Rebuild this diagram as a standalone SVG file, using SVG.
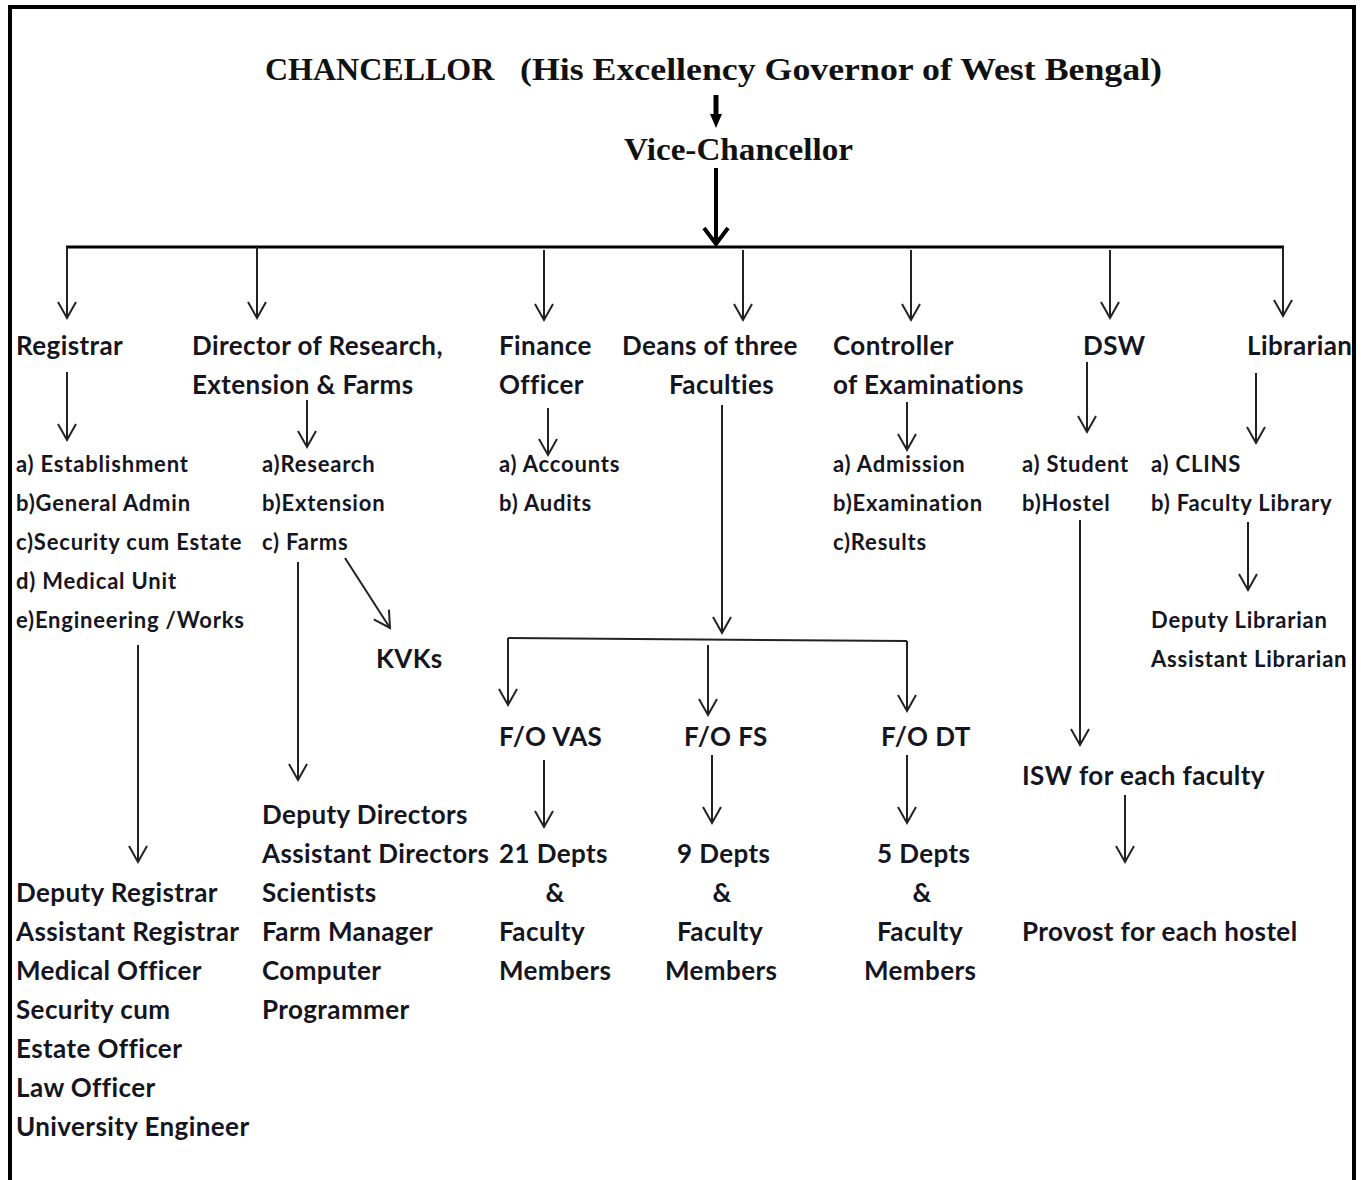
<svg xmlns="http://www.w3.org/2000/svg" width="1361" height="1180" viewBox="0 0 1361 1180">
<style>
.t{font-family:Lato,"Open Sans","Liberation Sans",sans-serif;font-weight:bold;fill:#15151f;font-size:26px;letter-spacing:0.4px}
.s{font-size:22px;letter-spacing:0.8px}
.c{text-anchor:middle}
.ser{font-family:"Liberation Serif","DejaVu Serif",serif;font-weight:bold;fill:#111;font-size:32px}
.ln{stroke:#222;stroke-width:2;fill:none}
</style>
<defs>
<marker id="ah" viewBox="-20 -12 24 24" markerWidth="24" markerHeight="24" refX="0" refY="0" orient="auto" markerUnits="userSpaceOnUse" overflow="visible">
<path d="M-16,-9 L0,0 L-16,9" fill="none" stroke="#222" stroke-width="2"/>
</marker>
<marker id="ahb" viewBox="-20 -16 24 32" markerWidth="24" markerHeight="32" refX="0" refY="0" orient="auto" markerUnits="userSpaceOnUse" overflow="visible">
<path d="M-16,-12 L0,0 L-16,12" fill="none" stroke="#000" stroke-width="4"/>
</marker>
</defs>
<rect x="0" y="0" width="1361" height="1180" fill="#fff"/>
<rect x="10" y="7" width="1344" height="1200" fill="none" stroke="#000" stroke-width="4"/>

<g id="chancellor"><text class="ser" x="265" y="80">CHANCELLOR</text><text class="ser" x="520" y="80" textLength="642" lengthAdjust="spacingAndGlyphs">(His Excellency Governor of West Bengal)</text></g>
<g id="vc"><text class="ser" x="624" y="160" textLength="229" lengthAdjust="spacingAndGlyphs">Vice-Chancellor</text></g>

<g id="registrar"><text class="t" x="16" y="355">Registrar</text></g>
<g id="director"><text class="t" x="192" y="355">Director of Research,</text><text class="t" x="192" y="394">Extension &amp; Farms</text></g>
<g id="finance"><text class="t" x="499" y="355">Finance</text><text class="t" x="499" y="394">Officer</text></g>
<g id="deans"><text class="t" x="622" y="355">Deans of three</text><text class="t" x="669" y="394">Faculties</text></g>
<g id="controller"><text class="t" x="833" y="355">Controller</text><text class="t" x="833" y="394">of Examinations</text></g>
<g id="dsw"><text class="t" x="1083" y="355">DSW</text></g>
<g id="librarian"><text class="t" x="1247" y="355">Librarian</text></g>

<g id="reg-units" class="t s">
<text x="16" y="472">a) Establishment</text>
<text x="16" y="511">b)General Admin</text>
<text x="16" y="550">c)Security cum Estate</text>
<text x="16" y="589">d) Medical Unit</text>
<text x="16" y="628">e)Engineering /Works</text>
</g>
<g id="dir-units" class="t s">
<text x="262" y="472">a)Research</text>
<text x="262" y="511">b)Extension</text>
<text x="262" y="550">c) Farms</text>
</g>
<g id="fin-units" class="t s">
<text x="499" y="472">a) Accounts</text>
<text x="499" y="511">b) Audits</text>
</g>
<g id="coe-units" class="t s">
<text x="833" y="472">a) Admission</text>
<text x="833" y="511">b)Examination</text>
<text x="833" y="550">c)Results</text>
</g>
<g id="dsw-units" class="t s">
<text x="1022" y="472">a) Student</text>
<text x="1022" y="511">b)Hostel</text>
</g>
<g id="lib-units" class="t s">
<text x="1151" y="472">a) CLINS</text>
<text x="1151" y="511">b) Faculty Library</text>
</g>
<g id="lib-staff" class="t s">
<text x="1151" y="628">Deputy Librarian</text>
<text x="1151" y="667">Assistant Librarian</text>
</g>
<g id="kvks"><text class="t" x="376" y="668">KVKs</text></g>

<g id="fovas"><text class="t" x="499" y="746">F/O VAS</text></g>
<g id="fofs"><text class="t" x="684" y="746">F/O FS</text></g>
<g id="fodt"><text class="t" x="881" y="746">F/O DT</text></g>

<g id="isw"><text class="t" x="1022" y="785">ISW for each faculty</text></g>
<g id="provost"><text class="t" x="1022" y="941">Provost for each hostel</text></g>

<g id="dir-staff" class="t">
<text x="262" y="824">Deputy Directors</text>
<text x="262" y="863">Assistant Directors</text>
<text x="262" y="902">Scientists</text>
<text x="262" y="941">Farm Manager</text>
<text x="262" y="980">Computer</text>
<text x="262" y="1019">Programmer</text>
</g>

<g id="vas-depts" class="t">
<text x="499" y="863">21 Depts</text>
<text x="555" y="902" class="c">&amp;</text>
<text x="499" y="941">Faculty</text>
<text x="499" y="980">Members</text>
</g>
<g id="fs-depts" class="t">
<text x="677" y="863">9 Depts</text>
<text x="722" y="902" class="c">&amp;</text>
<text x="677" y="941">Faculty</text>
<text x="665" y="980">Members</text>
</g>
<g id="dt-depts" class="t">
<text x="877" y="863">5 Depts</text>
<text x="922" y="902" class="c">&amp;</text>
<text x="877" y="941">Faculty</text>
<text x="864" y="980">Members</text>
</g>

<g id="reg-staff" class="t">
<text x="16" y="902">Deputy Registrar</text>
<text x="16" y="941">Assistant Registrar</text>
<text x="16" y="980">Medical Officer</text>
<text x="16" y="1019">Security cum</text>
<text x="16" y="1058">Estate Officer</text>
<text x="16" y="1097">Law Officer</text>
<text x="16" y="1136">University Engineer</text>
</g>

<g id="connectors">
<path d="M716,95 V116" stroke="#000" stroke-width="5" fill="none"/>
<path d="M710,114 L722,114 L716,128 Z" fill="#000"/>
<path d="M716,168 V244" stroke="#000" stroke-width="4" fill="none" marker-end="url(#ahb)"/>
<path d="M66,247 H1284" stroke="#000" stroke-width="3" fill="none"/>
<path class="ln" d="M67,247 V318" marker-end="url(#ah)"/>
<path class="ln" d="M257,247 V318" marker-end="url(#ah)"/>
<path class="ln" d="M544,250 V320" marker-end="url(#ah)"/>
<path class="ln" d="M743,250 V320" marker-end="url(#ah)"/>
<path class="ln" d="M911,250 V320" marker-end="url(#ah)"/>
<path class="ln" d="M1110,250 V318" marker-end="url(#ah)"/>
<path class="ln" d="M1283,247 V316" marker-end="url(#ah)"/>

<path class="ln" d="M67,372 V440" marker-end="url(#ah)"/>
<path class="ln" d="M307,400 V447" marker-end="url(#ah)"/>
<path class="ln" d="M548,408 V455" marker-end="url(#ah)"/>
<path class="ln" d="M907,402 V450" marker-end="url(#ah)"/>
<path class="ln" d="M1087,362 V432" marker-end="url(#ah)"/>
<path class="ln" d="M1256,373 V443" marker-end="url(#ah)"/>

<path class="ln" d="M722,405 V633" marker-end="url(#ah)"/>
<path class="ln" d="M508,638 L907,641"/>
<path class="ln" d="M508,638 V705" marker-end="url(#ah)"/>
<path class="ln" d="M708,645 V715" marker-end="url(#ah)"/>
<path class="ln" d="M907,641 V711" marker-end="url(#ah)"/>

<path class="ln" d="M544,760 V827" marker-end="url(#ah)"/>
<path class="ln" d="M712,755 V823" marker-end="url(#ah)"/>
<path class="ln" d="M907,755 V823" marker-end="url(#ah)"/>

<path class="ln" d="M138,645 V862" marker-end="url(#ah)"/>
<path class="ln" d="M298,562 V780" marker-end="url(#ah)"/>
<path class="ln" d="M345,558 L390,628" marker-end="url(#ah)"/>
<path class="ln" d="M1080,520 V745" marker-end="url(#ah)"/>
<path class="ln" d="M1125,795 V862" marker-end="url(#ah)"/>
<path class="ln" d="M1248,522 V590" marker-end="url(#ah)"/>
</g>
</svg>
